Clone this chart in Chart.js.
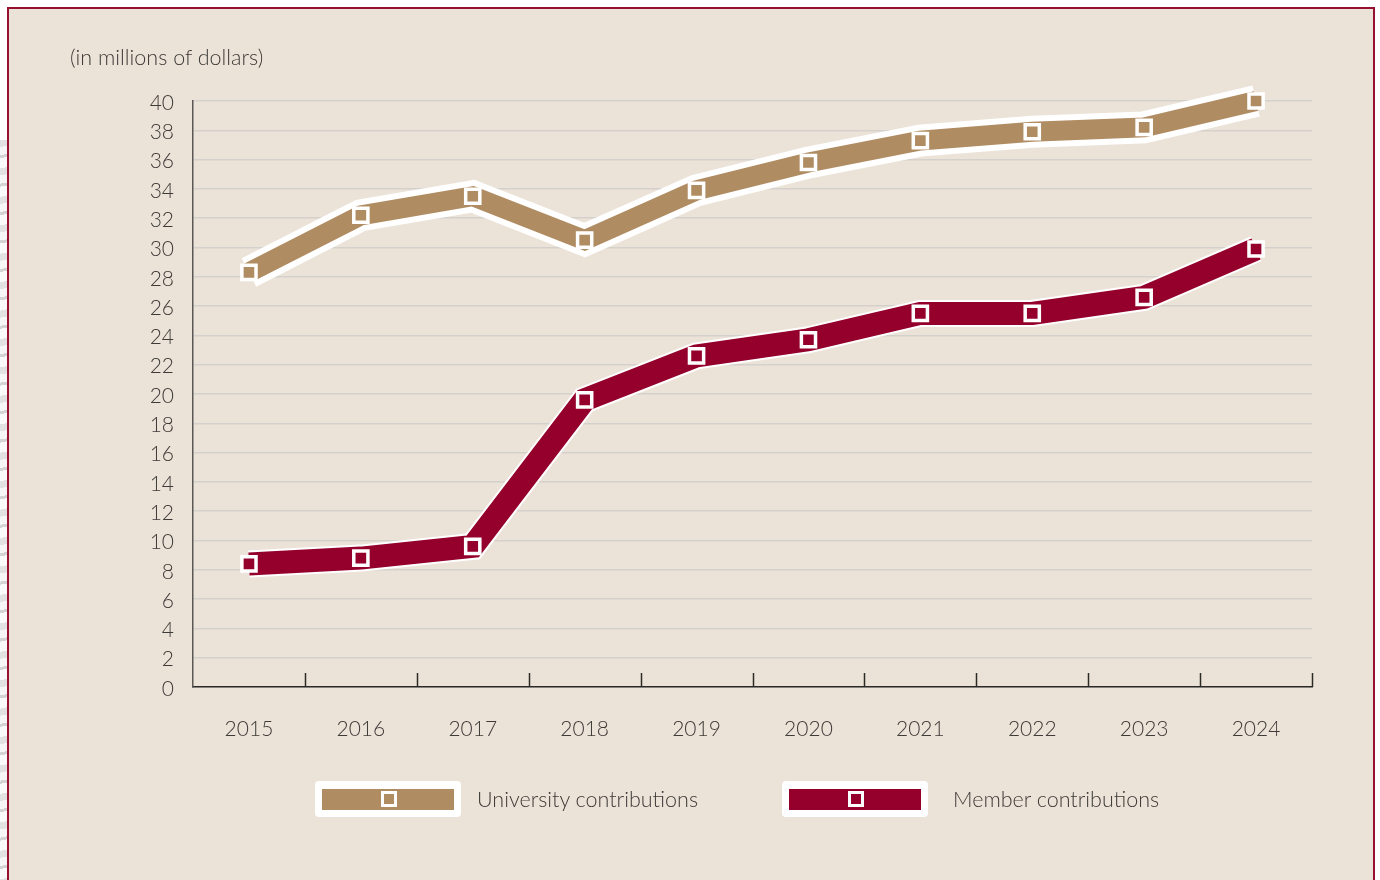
<!DOCTYPE html>
<html>
<head>
<meta charset="utf-8">
<script src="https://cdn.jsdelivr.net/npm/chart.js@4"></script>
<style>
  html, body { margin: 0; padding: 0; background: #ffffff; }
  body { width: 1380px; height: 880px; position: relative; overflow: hidden; font-family: Lato, "Open Sans", sans-serif; }
  .strip { position: absolute; left: 0; top: 140px; width: 7px; height: 740px;
    background: repeating-linear-gradient(170deg, #e2e2e2 0 7px, #f6f6f6 7px 15px, #d4d4d4 15px 18px, #fafafa 18px 28px); }
  .frame { position: absolute; left: 7px; top: 7px; width: 1364px; height: 900px;
    background: #ece3d8; border: 2px solid #96112f; }
  canvas { position: absolute; left: 0; top: 0; }
  .unit { position: absolute; left: 70px; top: 44px; font-size: 21.5px; color: #3d3a37; font-weight: 300; }
  .legend-item { position: absolute; top: 781px; height: 36px; }
  .legend-box { position: absolute; left: 0; top: 0; width: 146px; height: 36px; background: #fff; border-radius: 4px; }
  .legend-bar { position: absolute; left: 7px; top: 8px; width: 132px; height: 21px; }
  .legend-mark { position: absolute; left: 59px; top: 2px; width: 10px; height: 10px; border: 3.5px solid #fff; }
  .legend-text { position: absolute; top: 5px; font-size: 21.5px; color: #3d3a37; white-space: nowrap; font-weight: 300; }
</style>
</head>
<body>
<div class="strip"></div>
<div class="frame"></div>
<canvas id="chart" width="1380" height="880"></canvas>
<div class="unit">(in millions of dollars)</div>
<div id="legend"></div>

<script>
// contributions per year, in millions of dollars
const years = ["2015", "2016", "2017", "2018", "2019", "2020", "2021", "2022", "2023", "2024"];
const universityContributions = [28.3, 32.2, 33.5, 30.5, 33.9, 35.8, 37.3, 37.9, 38.2, 40.0];
const memberContributions = [8.4, 8.8, 9.6, 19.6, 22.6, 23.7, 25.5, 25.5, 26.6, 29.9];
const seriesNames = ["University contributions", "Member contributions"];
const yTicks = [0, 40, 2]; // min, max, step

const uniColor = "#b08c62";
const memberColor = "#94002b";

// legend drawn in html, one white tile per series
const legendSpots = [315, 782];
const legendTextGap = [162, 171];
[uniColor, memberColor].forEach((c, i) => {
  const item = document.createElement("div");
  item.className = "legend-item";
  item.style.left = legendSpots[i] + "px";
  item.innerHTML = `<div class="legend-box"></div>
    <div class="legend-bar" style="background:${c}"><div class="legend-mark" style="background:${c}"></div></div>
    <div class="legend-text" style="left:${legendTextGap[i]}px">${seriesNames[i]}</div>`;
  document.getElementById("legend").appendChild(item);
});

// small upward ticks on the x axis between the years
const bandTicks = {
  id: "bandTicks",
  afterDraw(chart) {
    const x = chart.scales.x;
    const bottom = chart.chartArea.bottom;
    const ctx = chart.ctx;
    ctx.save();
    ctx.strokeStyle = "#2b2a29";
    ctx.lineWidth = 1.5;
    for (let i = 0; i < years.length; i++) {
      const px = i < years.length - 1
        ? (x.getPixelForValue(i) + x.getPixelForValue(i + 1)) / 2
        : chart.chartArea.right;
      ctx.beginPath();
      ctx.moveTo(Math.round(px) + 0.5, bottom - 14);
      ctx.lineTo(Math.round(px) + 0.5, bottom);
      ctx.stroke();
    }
    ctx.restore();
  }
};

function ribbon(data, color, width, order, withPoints) {
  return {
    data: data,
    borderColor: color,
    backgroundColor: color,
    borderWidth: width,
    borderCapStyle: "butt",
    borderJoinStyle: "miter",
    tension: 0,
    fill: false,
    clip: false,
    order: order,
    pointStyle: "rect",
    pointRadius: withPoints ? 10 : 0,
    pointHoverRadius: withPoints ? 10 : 0,
    pointBorderColor: "#ffffff",
    pointBorderWidth: 3.5,
    pointBackgroundColor: color
  };
}

new Chart(document.getElementById("chart"), {
  type: "line",
  data: {
    labels: years,
    datasets: [
      ribbon(universityContributions, "#ffffff", 32, 4, false),
      ribbon(memberContributions, "#ffffff", 27, 3, false),
      ribbon(universityContributions, uniColor, 20, 2, true),
      ribbon(memberContributions, memberColor, 23, 1, true)
    ]
  },
  options: {
    responsive: false,
    animation: false,
    devicePixelRatio: 1,
    layout: { padding: { top: 101, right: 68, bottom: 0, left: 0 } },
    plugins: { legend: { display: false }, tooltip: { enabled: false } },
    scales: {
      x: {
        offset: true,
        grid: { display: false },
        border: { display: true, color: "#2b2a29", width: 1.5 },
        ticks: { color: "#3d3a37", font: { family: "Lato", size: 21, weight: 300 }, padding: 22, maxRotation: 0 },
        afterFit(scale) { scale.height = 193; }
      },
      y: {
        min: yTicks[0],
        max: yTicks[1],
        ticks: { stepSize: yTicks[2], color: "#3d3a37", font: { family: "Lato", size: 21, weight: 300 }, padding: 19, labelOffset: 2, autoSkip: false },
        grid: { color: "#d4d1cd", lineWidth: 1.5, drawTicks: false },
        border: { display: true, color: "#5a5755", width: 1.5 },
        afterFit(scale) { scale.width = 193; }
      }
    }
  },
  plugins: [bandTicks]
});
</script>
</body>
</html>
